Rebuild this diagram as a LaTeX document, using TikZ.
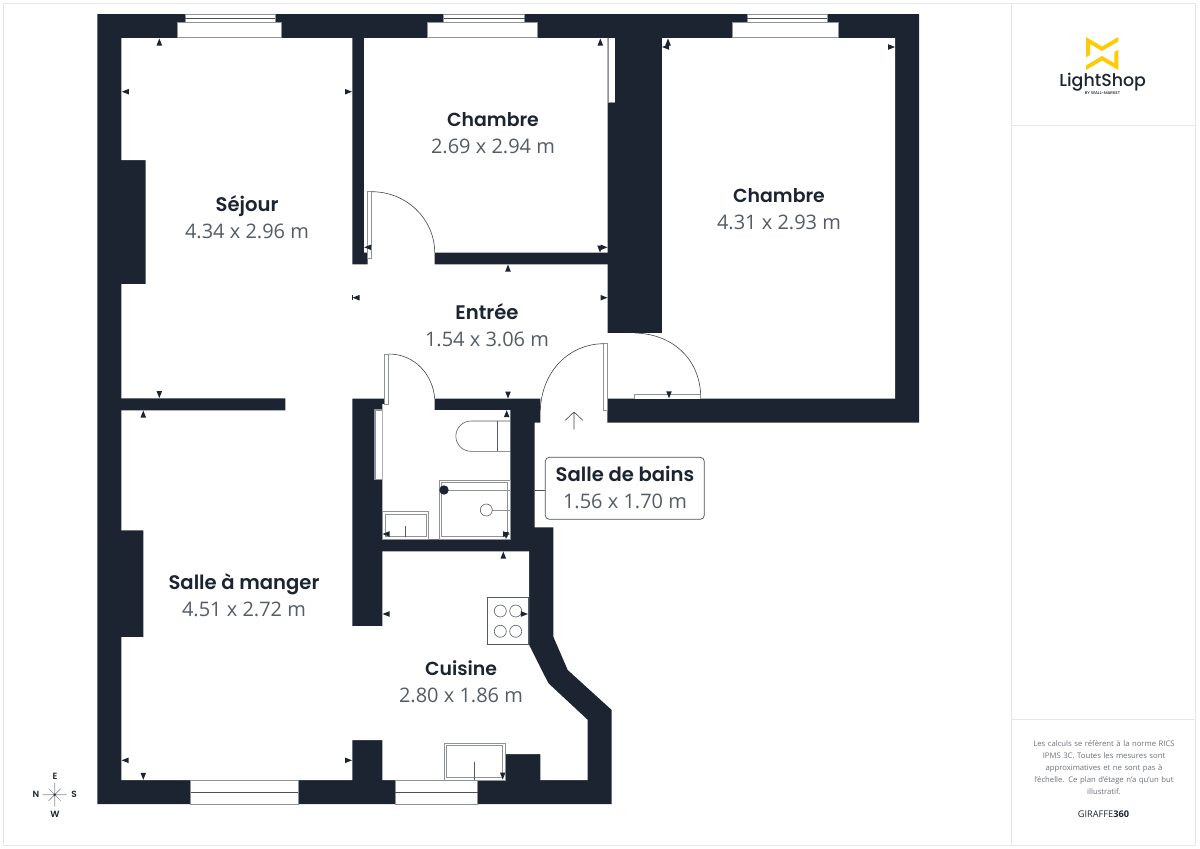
\documentclass[tikz,border=0pt]{standalone}
\usepackage{fontspec}
\setmainfont{Open Sans}
\newfontfamily\hdfont{Poppins SemiBold}
\newfontfamily\logofont{Poppins Medium}
\newfontfamily\valfont{Open Sans}
\definecolor{wallc}{HTML}{1B2430}
\definecolor{valc}{HTML}{555C66}
\definecolor{framec}{HTML}{E6E7E8}
\definecolor{edgec}{HTML}{8E939A}
\definecolor{noteC}{HTML}{6B7078}
\definecolor{logoY}{HTML}{FFCB05}
\tikzset{
  wall/.style={fill=wallc,draw=none},
  frameline/.style={draw=framec,line width=1pt},
  fixt/.style={draw=wallc!75!white,line width=0.6pt},
  leaf/.style={fill=white,draw=edgec,line width=1pt},
  swing/.style={draw=wallc!85!white,line width=0.6pt},
  fixtdbl/.style={fill=white,draw=edgec,line width=0.7pt},
  rname/.style={font=\hdfont\fontsize{19.6}{22}\selectfont,text=wallc,inner sep=0pt,anchor=base},
  rnames/.style={rname,font=\hdfont\fontsize{18.9}{22}\selectfont},
  rval/.style={font=\valfont\fontsize{20}{22}\selectfont,text=valc,inner sep=0pt,anchor=base},
  notetxt/.style={font=\fontsize{7.7}{12}\selectfont,text=noteC,inner sep=0pt},
  comp/.style={font=\hdfont\fontsize{9}{10}\selectfont,text=wallc,inner sep=0pt},
}
\newcommand{\wm}[3]{\fill[wallc,shift={(#1,#2)},rotate=#3] (0,0)--(7,2.8)--(7,-2.8)--cycle;}
\begin{document}
\begin{tikzpicture}[x=1pt,y=-1pt]
\useasboundingbox (0,0) rectangle (1200,849);
% page frames
\draw[frameline] (3.5,3.5) rectangle (1195.5,845);
\draw[frameline] (1011.7,3.5) -- (1011.7,845);
\draw[frameline] (1011.7,125.7) -- (1195.5,125.7);
\draw[frameline] (1011.7,719.5) -- (1195.5,719.5);
% walls
\fill[wall] (97.3,14)--(919,14)--(919,422.7)--(607.3,422.7)--(607.3,390)--(540.3,390)--(540.3,422.7)--(534.7,422.7)--(534.7,527.3)--(553.3,527.3)--(553.3,636.7)--(567.7,670)--(611.7,710)--(611.7,804)--(97.3,804)--cycle;
% interior
\fill[white] (121.3,38)--(352.3,38)--(352.3,264.3)--(367.7,264.3)--(367.7,252.7)--(364,252.7)--(364,38)--(607.7,38)--(607.7,252.7)--(434.7,252.7)--(434.7,264.3)--(607.7,264.3)--(607.7,333)--(662,333)--(662,38)--(895,38)--(895,398.7)--(434.7,398.7)--(434.7,410)--(510.3,410)--(510.3,539.3)--(382.3,539.3)--(382.3,404)--(384.3,404)--(384.3,398.7)--(352.3,398.7)--(352.3,626)--(382.3,626)--(382.3,551.3)--(529,551.3)--(529,645)--(548.3,683.3)--(587.7,720)--(587.7,780)--(540.3,780)--(540.3,754)--(505,754)--(505,780)--(382.3,780)--(382.3,740)--(352.3,740)--(352.3,780)--(121.3,780)--(121.3,637)--(143.3,637)--(143.3,530.3)--(121.3,530.3)--(121.3,410.3)--(285.3,410.3)--(285.3,398.3)--(121.3,398.3)--(121.3,284)--(145.7,284)--(145.7,160)--(121.3,160)--cycle;
% windows top
\foreach \a/\b/\c/\d in {177.3/281.7/185/275.3, 427.3/537.3/443.7/524.7, 732/838/747/827}{
  \fill[white] (\a,22.7) rectangle (\b,37.6);
  \draw[edgec,line width=0.5pt] (\a,22.7) rectangle (\b,37.6);
  \fill[white] (\c,14.3) rectangle (\d,22.3);
  \draw[edgec,line width=0.5pt] (\c,14.3) rectangle (\d,22.3);
  \draw[wallc!80!white,line width=0.7pt] (\c,18.4)--(\d,18.4);
}
% windows bottom
\foreach \a/\b in {190.7/298, 395/477.7}{
  \fill[white] (\a,780.5) rectangle (\b,804);
  \draw[edgec,line width=0.5pt] (\a,780.5) rectangle (\b,804);
  \draw[wallc!80!white,line width=0.7pt] (\a,792.3)--(\b,792.3);
}
% closets
\fill[white] (607.7,38) rectangle (615.3,102.3);
\draw[edgec,line width=1.2pt] (608.3,38)--(608.3,102.3)--(615.3,102.3);
\fill[white] (374.3,410) rectangle (382.3,479.3);
\draw[edgec,line width=1.2pt] (382.3,479.3)--(375,479.3)--(375,410)--(382.3,410);
\fill[white] (634.3,394.3) rectangle (700.7,398.7);
\draw[edgec,line width=0.9pt] (634.3,398.7)--(634.3,394.6)--(700.7,394.6)--(700.7,398.7);
% doors
\draw[leaf] (367.6,191.7) rectangle (371.7,258.3);
\draw[swing] (371.7,191.7) arc[start angle=90,end angle=0,x radius=63,y radius=-61];
\draw[leaf] (384.6,354) rectangle (388.8,404);
\draw[swing] (388.8,354) .. controls (415,354) and (433,375) .. (434.7,398.7);
\draw[leaf] (603.4,343.7) rectangle (607.3,410);
\draw[swing] (603.4,343.7) .. controls (570,344) and (542,370) .. (540.3,410);
\draw[swing] (635,333) .. controls (672,334) and (699,358) .. (700.7,394.6);
% entry arrow
\draw[wallc!85!white,line width=0.6pt] (574,429.3)--(574,412) (565,420.5)--(574,412)--(583,420.5);
% toilet
\draw[fixt] (510.3,421)--(471,421) arc[start angle=90,end angle=270,radius=15.15,y radius=-15.15] --(510.3,451.3);
\draw[fixt] (497.3,421)--(497.3,451.3);
% shower
\draw[fixtdbl] (439.3,480.3) rectangle (510,539);
\draw[fixtdbl] (441.8,482.8) rectangle (507.5,536.5);
\draw[edgec,line width=0.7pt] (444,490)--(510,490);
\fill[wallc] (444,490) circle (4.7);
\draw[edgec,line width=0.7pt] (492.3,510)--(510,510);
\draw[fixt] (486.3,510) circle (6);
% basin
\draw[fixtdbl] (382.3,511.7) rectangle (428.7,539);
\draw[fixtdbl] (385,514.2) rectangle (426.2,536.5);
\draw[fixt] (405.3,526)--(405.3,536.5);
% stove
\draw[fixt,fill=white] (487.3,597.3) rectangle (528.7,644.7);
\foreach \x/\y in {500.3/611,515.7/611,500.3/631.3,515.7/631.3}{\draw[fixt] (\x,\y) circle (6);}
% kitchen sink
\draw[fixtdbl] (444,743.3) rectangle (505,780);
\draw[fixtdbl] (446.5,745.8) rectangle (502.5,777.5);
\draw[fixt] (474.3,761.7)--(474.3,780);
% measurement markers
\foreach \x/\y/\r in {
 159.3/38.5/270, 121.8/91.7/0, 352/91.7/180,
 600.3/38.5/270, 607.5/247.3/180, 600/252.5/90, 364.2/247.3/0,
 508/264.6/270, 662/47/0, 668/38.5/270, 895/47/180,
 669/398.3/90, 352.6/297.7/0, 607.5/297.7/180, 508/398.5/90,
 506.7/410.2/270, 382.6/534/0, 510/534/180, 506/539/90,
 503.3/551.5/270, 382.6/614/0, 527.9/614/180, 502.7/779.5/90,
 352/760.3/180, 121.6/760.3/0, 143.3/779.8/90, 143.3/410.5/270, 159.3/398/90}{
 \wm{\x}{\y}{\r}
}
\draw[wallc,line width=0.7pt] (352.6,295)--(352.6,300.4);
% room labels
\node[rname] (sej) at (247,211.7) {Séjour};
\node[rval] (sejv) at (247,238.3) {4.34 x 2.96 m};
\node[rnames] (ch1) at (493,126.7) {Chambre};
\node[rval] (ch1v) at (493,153.3) {2.69 x 2.94 m};
\node[rnames] (ch2) at (779,202.7) {Chambre};
\node[rval] (ch2v) at (779,229.3) {4.31 x 2.93 m};
\node[rname] (ent) at (487,319.3) {Entrée};
\node[rval] (entv) at (487,346) {1.54 x 3.06 m};
\node[rname] (sam) at (244,589.5) {Salle à manger};
\node[rval] (samv) at (244,616.2) {4.51 x 2.72 m};
\node[rnames] (cui) at (461,675.7) {Cuisine};
\node[rval] (cuiv) at (461,702.5) {2.80 x 1.86 m};
% bath label
\node[draw=wallc!80!white,line width=0.7pt,rounded corners=4pt,fill=white,minimum width=159pt,minimum height=62pt,inner sep=0pt] (sdb) at (624.8,488.3) {};
\coordinate (ldr) at (534.7,490);
\draw[wallc!80!white,line width=0.6pt] (ldr)--(ldr -| sdb.west);
\node[rname] (sdbn) at (625,481.3) {Salle de bains};
\node[rval] (sdbv) at (625,508.5) {1.56 x 1.70 m};
% compass
\draw[edgec,line width=0.6pt] (42.7,794.7)--(66.7,794.7) (54.7,782.7)--(54.7,806.7) (48.7,788.7)--(60.7,800.7) (48.7,800.7)--(60.7,788.7);
\fill[wallc] (54.7,794.7) circle (1.2);
\node[comp] (cE) at (55,776) {E};
\node[comp] (cW) at (55,814) {W};
\node[comp] (cN) at (36,794.7) {N};
\node[comp] (cS) at (74,794.7) {S};
% logo
\fill[logoY] (1086,37)--(1102,46.5)--(1118.3,37)--(1118.3,41.5)--(1102,51)--(1090,44)--(1090,55)--(1086,57.3)--cycle;
\fill[logoY] (1118.3,70)--(1102,60.5)--(1086,70)--(1086,65.5)--(1102,56)--(1114.3,63)--(1114.3,52)--(1118.3,49.7)--cycle;
\node[font=\logofont\fontsize{17.4}{20}\selectfont,text=wallc,inner sep=0pt] (logo) at (1102.7,82) {LightShop};
\node[font=\logofont\fontsize{4.1}{5}\selectfont,text=wallc,inner sep=0pt] (logos) at (1102.5,92.6) {BY WALL-MARKET};
% note
\node[notetxt,align=center,text width=170pt] (note) at (1104,767.4) {Les calculs se réfèrent à la norme RICS\\IPMS 3C. Toutes les mesures sont\\approximatives et ne sont pas à\\l’échelle. Ce plan d’étage n’a qu’un but\\illustratif.};
\node[font=\fontsize{9.2}{10}\selectfont,text=wallc,inner sep=0pt] (gir) at (1103.5,813.7) {GIRAFFE\textbf{360}};
\end{tikzpicture}
\end{document}
